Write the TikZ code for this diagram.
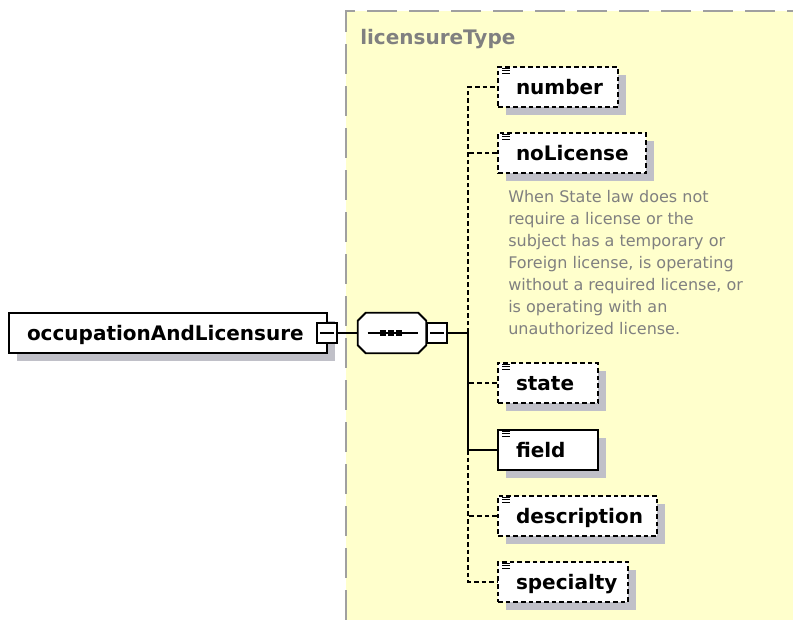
\documentclass[tikz,border=0pt]{standalone}
\usepackage{fontspec}
\setmainfont{DejaVu Sans}
\usetikzlibrary{shadows}
\definecolor{regionyellow}{RGB}{255,255,204}
\definecolor{regionborder}{RGB}{160,160,160}
\definecolor{shadowgray}{RGB}{192,192,200}
\definecolor{doctext}{RGB}{128,128,128}
\tikzset{
  elem/.style={draw=black, fill=white, line width=1.4pt, minimum height=30pt,
    inner sep=0pt, align=left, text height=11.25pt, text depth=0pt,
    font=\bfseries\fontsize{15}{18}\selectfont,
    execute at begin node=\hspace*{13.5pt},
    drop shadow={shadow xshift=6pt, shadow yshift=-6pt, fill=shadowgray, opacity=1}},
  optelem/.style={elem, dash pattern=on 3.5pt off 2.25pt},
  minusbox/.style={draw=black, fill=white, line width=1.3pt, minimum size=15pt, inner sep=0pt},
  conn/.style={draw=black, line width=1.4pt},
  optconn/.style={draw=black, line width=1.4pt, dash pattern=on 3.5pt off 2.25pt},
  regionline/.style={draw=regionborder, line width=1.5pt, dash pattern=on 22.5pt off 9pt},
  iconline/.style={draw=black, line width=0.7pt}
}
\begin{document}
\begin{tikzpicture}[x=0.75pt,y=-0.75pt]
\useasboundingbox (0,0) rectangle (793,620);
% schema type region
\fill[regionyellow] (346,11) rectangle (793,620);
\draw[regionline] (346,620) -- (346,11) -- (793,11);
\node[anchor=base west, inner sep=0pt, text=doctext, font=\bfseries\fontsize{15}{18}\selectfont] (title) at (360,45) {licensureType};

% root element
\node[elem, minimum width=238.5pt, text width=238.5pt] (main) at (168,333) {occupationAndLicensure};
\node[minusbox] (mainminus) at (327,333) {};
\draw[line width=1pt] ([xshift=3pt]mainminus.west) -- ([xshift=-3pt]mainminus.east);

% sequence compositor
\node[minimum width=51pt, minimum height=30pt, inner sep=0pt] (seq) at (392,333) {};
\fill[shadowgray, shift={(9,9)}] ([xshift=6pt]seq.north west) -- ([xshift=-6pt]seq.north east) -- ([yshift=-6pt]seq.north east) -- ([yshift=6pt]seq.south east) -- ([xshift=-6pt]seq.south east) -- ([xshift=6pt]seq.south west) -- ([yshift=6pt]seq.south west) -- ([yshift=-6pt]seq.north west) -- cycle;
\draw[fill=white, line width=1.4pt] ([xshift=6pt]seq.north west) -- ([xshift=-6pt]seq.north east) -- ([yshift=-6pt]seq.north east) -- ([yshift=6pt]seq.south east) -- ([xshift=-6pt]seq.south east) -- ([xshift=6pt]seq.south west) -- ([yshift=6pt]seq.south west) -- ([yshift=-6pt]seq.north west) -- cycle;
\draw[line width=1pt] ([xshift=7.5pt]seq.west) -- ([xshift=-6pt]seq.east);
\fill (380,330) rectangle (386,336);
\fill (388,330) rectangle (394,336);
\fill (396,330) rectangle (402,336);
\node[minusbox] (seqminus) at (437,333) {};
\draw[line width=1pt] ([xshift=3pt]seqminus.west) -- ([xshift=-3pt]seqminus.east);

% child elements
\node[optelem, minimum width=90pt, text width=90pt] (number) at (558,87) {number};
\node[optelem, minimum width=111pt, text width=111pt] (nolic) at (572,153) {noLicense};
\node[anchor=north west, inner sep=0pt, align=left, text=doctext, font=\fontsize{12}{16.5}\selectfont] (doc) at (508,190) {When State law does not\\require a license or the\\subject has a temporary or\\Foreign license, is operating\\without a required license, or\\is operating with an\\unauthorized license.};
\node[optelem, minimum width=75pt, text width=75pt] (state) at (548,383) {state};
\node[elem, minimum width=75pt, text width=75pt] (field) at (548,450) {field};
\node[optelem, minimum width=119.25pt, text width=119.25pt] (desc) at (577.5,516) {description};
\node[optelem, minimum width=97.5pt, text width=97.5pt] (spec) at (563,582) {specialty};

\foreach \n in {number,nolic,state,field,desc,spec}{
  \foreach \dy in {1.5,3.4,5.3}{
    \draw[iconline] ([xshift=3.75pt,yshift=-\dy pt]\n.north west) -- ++(6pt,0);
  }
}

% connectors
\coordinate (j) at (468,333);
\draw[conn] (mainminus.east) -- (seq.west);
\draw[conn] (seqminus.east) -- (j);
\draw[conn] (j) |- (field.west);
\draw[optconn] (j) |- (number.west);
\draw[optconn] (nolic.west) -- (nolic.west -| j);
\draw[optconn] (state.west) -- (state.west -| j);
\draw[optconn] (field.west -| j) |- (spec.west);
\draw[optconn] (desc.west) -- (desc.west -| j);
\end{tikzpicture}
\end{document}
